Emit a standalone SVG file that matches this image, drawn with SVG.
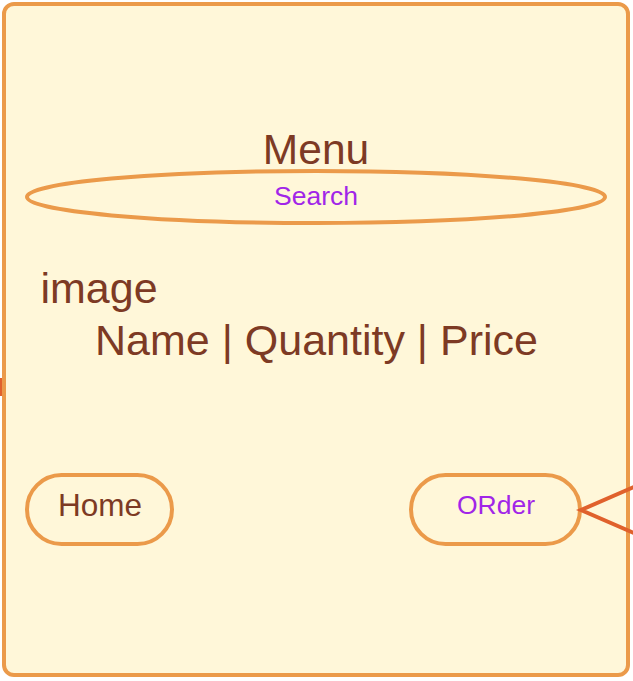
<svg xmlns="http://www.w3.org/2000/svg" width="633" height="681" viewBox="0 0 633 681">
<style>
.shape{fill:#fff7d9;stroke:#eb9a4a;stroke-width:4}
.brown{font-family:"Liberation Sans",Arial,sans-serif;fill:#7d3a24}
.purple{font-family:"Liberation Sans",Arial,sans-serif;fill:#a125e8}
.conn{stroke:#e0612c;stroke-width:4;fill:none}
</style>
<g id="menu">
<rect class="shape" x="4" y="4" width="624" height="671" rx="10"/>
<text class="brown" x="316" y="164" font-size="42.5" text-anchor="middle">Menu</text>
</g>
<g id="search">
<ellipse class="shape" cx="316" cy="197" rx="289" ry="26"/>
<text class="purple" x="316" y="205" font-size="26.5" text-anchor="middle">Search</text>
</g>
<g id="content">
<text class="brown" x="40.5" y="303" font-size="43">image</text>
<text class="brown" x="95" y="355" font-size="43">Name | Quantity | Price</text>
</g>
<g id="home">
<rect class="shape" x="27" y="475" width="145" height="69" rx="34.5"/>
<text class="brown" x="100" y="516" font-size="31.5" text-anchor="middle">Home</text>
</g>
<g id="order">
<rect class="shape" x="411" y="475" width="169" height="69" rx="34.5"/>
<text class="purple" x="496" y="514" font-size="26.5" text-anchor="middle">ORder</text>
</g>
<g id="connectors">
<polyline class="conn" points="636,486 581,510 636,534"/>
<line class="conn" x1="0" y1="378" x2="0" y2="396" stroke-width="6"/>
</g>
</svg>
